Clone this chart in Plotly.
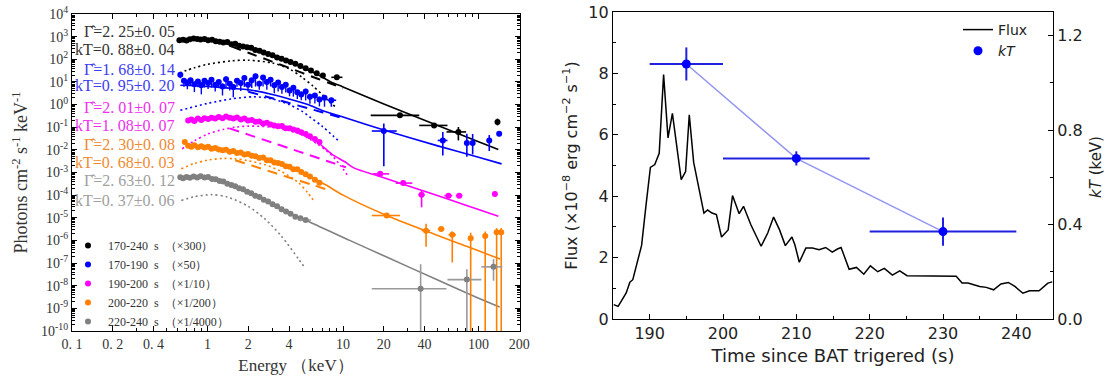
import plotly.graph_objects as go

# ---------------- LEFT PANEL DATA (photon spectra, scaled) ----------------
black_E = [0.62,0.66,0.70,0.74,0.79,0.84,0.89,0.95,1.01,1.08,1.15,1.23,1.31,1.40,1.50,1.60,1.71,1.83,1.96,2.10,2.25,2.42,2.60,2.80,3.02,3.26,3.52,3.80,4.10,4.45,4.85,5.3,5.8,6.4,7.1]
black_F = [6.9e2,7.2e2,6.8e2,7.6e2,8.3e2,7.9e2,7.4e2,7.8e2,6.9e2,7.2e2,6.3e2,6.0e2,5.5e2,5.8e2,4.6e2,4.8e2,4.0e2,3.7e2,3.4e2,3.2e2,2.6e2,2.4e2,2.0e2,1.7e2,1.5e2,1.2e2,1.05e2,89,76,63,50,40,32,24,19]

blue_E = [0.63,0.67,0.71,0.75,0.80,0.85,0.90,0.95,1.01,1.07,1.14,1.21,1.29,1.37,1.46,1.55,1.65,1.76,1.87,1.99,2.12,2.26,2.41,2.57,2.74,2.92,3.11,3.32,3.54,3.78,4.03,4.30,4.60,4.92,5.3,5.7,6.2,6.7,7.3]
blue_F = [21,11.2,9.5,12.0,7.9,10.5,7.1,11.2,8.9,12.6,7.6,10.0,6.3,13.2,8.3,6.0,11.2,8.9,15.1,7.6,12.0,17.8,8.3,15.8,10.0,12.6,7.1,9.5,6.0,7.6,4.2,5.6,3.5,2.8,3.8,2.2,2.5,1.66,2.0]
blue_err_dn = [0.30,0.45,0.50,0.40,0.55,0.45,0.60,0.50,0.45,0.55,0.50,0.45,0.60,0.55,0.50,0.65,0.45,0.55,0.60,0.50,0.55,0.65,0.45,0.60,0.55,0.50,0.55,0.60,0.50,0.55,0.45,0.60,0.50,0.45,0.60,0.50,0.55,0.50,0.60]
blue_err_up = [0.30,0.25,0.30,0.25,0.30,0.25,0.35,0.30,0.25,0.30,0.30,0.25,0.35,0.30,0.25,0.35,0.30,0.25,0.30,0.30,0.25,0.30,0.35,0.25,0.30,0.30,0.35,0.25,0.30,0.30,0.35,0.30,0.30,0.35,0.30,0.35,0.30,0.35,0.30]

mag_E = [0.72,0.76,0.80,0.85,0.90,0.95,1.01,1.07,1.14,1.21,1.29,1.37,1.46,1.55,1.65,1.76,1.87,1.99,2.12,2.26,2.41,2.57,2.74,2.92,3.11,3.32,3.54,3.78,4.03,4.30,4.60,4.92,5.3,5.7,6.2,6.7]
mag_F = [0.20,0.22,0.19,0.24,0.21,0.25,0.23,0.26,0.24,0.28,0.25,0.30,0.26,0.24,0.27,0.22,0.24,0.20,0.21,0.174,0.18,0.145,0.158,0.132,0.12,0.11,0.112,0.091,0.089,0.079,0.072,0.060,0.050,0.040,0.030,0.022]

org_E = [0.68,0.72,0.76,0.80,0.85,0.90,0.95,1.01,1.07,1.14,1.21,1.29,1.37,1.46,1.55,1.65,1.76,1.87,1.99,2.12,2.26,2.41,2.57,2.74,2.92,3.11,3.32,3.54,3.78,4.03,4.30,4.60,4.92,5.3,5.7,6.2,6.7]
org_F = [0.022,0.0151,0.0138,0.0158,0.0132,0.0145,0.0126,0.0138,0.0112,0.012,0.0105,0.0095,0.010,0.0083,0.0089,0.0072,0.0076,0.0063,0.0066,0.0055,0.0052,0.0044,0.0046,0.0035,0.0035,0.0028,0.0026,0.0024,0.0019,0.0018,0.0014,0.00138,0.00105,8.3e-4,6.6e-4,4.8e-4,3.5e-4]

gray_E = [0.63,0.66,0.70,0.74,0.79,0.84,0.89,0.95,1.01,1.08,1.15,1.23,1.31,1.40,1.50,1.60,1.71,1.83,1.96,2.10,2.25,2.42,2.60,2.80,3.02,3.26,3.52,3.80,4.10,4.45,4.85]
gray_F = [6.2e-4,5.6e-4,6.3e-4,5.8e-4,6.6e-4,6.0e-4,6.8e-4,6.0e-4,6.3e-4,5.2e-4,5.0e-4,4.2e-4,4.0e-4,3.2e-4,2.8e-4,2.5e-4,2.0e-4,1.82e-4,1.41e-4,1.2e-4,9.5e-5,8.3e-5,6.3e-5,5.2e-5,4.0e-5,3.2e-5,2.4e-5,1.9e-5,1.51e-5,1.12e-5,9.5e-6]

# wide bins (last XRT bin + BAT): energy, energy range, flux, flux range
black_hE = [9.0, 26.3, 47, 71, 138]
black_hElo = [8.2, 16, 36.5, 58, 133]
black_hEhi = [9.9, 36.5, 59, 81, 143]
black_hF = [16, 0.335, 0.12, 0.062, 0.17]
black_hFlo = [14, 0.30, 0.105, 0.026, 0.12]
black_hFhi = [18, 0.37, 0.137, 0.102, 0.24]

blue_hE = [8.2, 20, 54.5, 82, 90.5, 120, 142]
blue_hElo = [7.7, 16.3, 50, 79, 87.5, 116, 138]
blue_hEhi = [8.9, 24.9, 59, 85, 93.5, 124, 146]
blue_hF = [1.55, 0.068, 0.026, 0.020, 0.020, 0.026, 0.051]
blue_hFlo = [0.8, 0.0019, 0.0056, 0.005, 0.0063, 0.0089, 0.040]
blue_hFhi = [2.0, 0.145, 0.062, 0.052, 0.05, 0.045, 0.064]

mag_hE = [18.8, 27.8, 38, 60, 72, 132]
mag_hElo = [16.7, 24.5, 36, 56, 68, 128]
mag_hEhi = [21.9, 32.5, 40, 64, 76, 136]
mag_hF = [8.7e-4, 3.4e-4, 1.05e-4, 9.5e-5, 9.5e-5, 1.12e-4]
mag_hFlo = [7.2e-4, 2.8e-4, 2.9e-5, 7.9e-5, 7.9e-5, 8.9e-5]
mag_hFhi = [1.05e-3, 4.1e-4, 1.6e-4, 1.15e-4, 1.15e-4, 1.41e-4]

org_hE = [21, 41, 53, 64, 87.5, 112, 136, 147]
org_hElo = [16.3, 38, 50, 60, 84, 108, 132, 144]
org_hEhi = [26.3, 44, 56, 68, 91, 116, 140, 150]
org_hF = [1.26e-5, 2.7e-6, 3.2e-6, 1.78e-6, 1.26e-6, 1.58e-6, 2.3e-6, 2.3e-6]
org_hFlo = [1.1e-5, 5.2e-7, 2.6e-6, 1.07e-7, 1e-12, 1e-12, 1e-12, 1e-12]
org_hFhi = [1.4e-5, 5.4e-6, 3.9e-6, 2.5e-6, 2.2e-6, 2.5e-6, 3.5e-6, 3.5e-6]

gray_hE = [5.3, 37.4, 82, 129]
gray_hElo = [4.8, 16.3, 59, 105]
gray_hEhi = [5.8, 58, 105, 150]
gray_hF = [7.9e-6, 7.4e-9, 1.86e-8, 6.8e-8]
gray_hFlo = [6.5e-6, 1e-12, 1e-12, 1.66e-8]
gray_hFhi = [9.5e-6, 8.9e-8, 5.4e-8, 1.5e-7]

# model curves: total (solid), power law (dashed), blackbody (dotted)
black_tot_E = [0.6, 1.0, 1.5, 2.0, 3.0, 4.0, 5.0, 6.5, 8.0, 10, 20, 50, 100, 140]
black_tot_F = [690, 690, 440, 300, 138, 76, 44, 21, 10.5, 6.0, 1.05, 0.12, 0.023, 0.0105]
black_pl_E = [1.5, 2, 3, 4, 5, 6.5, 8, 10]
black_pl_F = [370, 195, 79, 42, 25, 13.8, 8.7, 5.2]
black_bb_E = [0.62, 0.8, 1.0, 1.5, 2.0, 3.0, 4.0, 5.0, 6.0, 7.0, 8.0, 8.8]
black_bb_F = [25, 42, 60, 85, 91, 69, 38, 15.8, 6.6, 2.8, 1.26, 0.79]

blue_tot_E = [0.63, 1.0, 1.5, 2.0, 3.0, 4.0, 5.5, 7.1, 10, 20, 50, 100, 148]
blue_tot_F = [7.1, 6.3, 5.2, 4.5, 2.8, 1.78, 1.0, 0.54, 0.28, 0.076, 0.015, 0.0047, 0.0024]
blue_pl_E = [2.0, 3.0, 4.0, 5.5, 7.1, 10]
blue_pl_F = [3.7, 1.9, 1.17, 0.69, 0.45, 0.25]
blue_bb_E = [0.63, 1.0, 1.5, 2.2, 3.0, 4.0, 5.0, 5.7, 7.0, 8.5, 9.5]
blue_bb_F = [0.56, 1.12, 1.78, 2.2, 1.78, 1.0, 0.5, 0.28, 0.112, 0.04, 0.022]

mag_tot_E = [0.7, 1.0, 1.35, 2.0, 2.65, 3.5, 4.7, 6.0, 7.1, 8.3, 10.4, 12, 18.8, 30, 60, 100, 140]
mag_tot_F = [0.19, 0.24, 0.27, 0.21, 0.145, 0.102, 0.066, 0.032, 0.014, 0.0063, 0.0029, 0.0016, 6.6e-4, 2.6e-4, 6.6e-5, 2.3e-5, 1.17e-5]
mag_pl_E = [1.45, 2.0, 3.0, 4.0, 5.5, 7.0, 8.5, 10.5]
mag_pl_F = [0.089, 0.047, 0.021, 0.0117, 0.0062, 0.0038, 0.0026, 0.0017]
mag_bb_E = [0.65, 0.8, 1.0, 1.3, 1.64, 2.0, 3.0, 4.0, 5.0, 6.5, 8.3, 10, 11]
mag_bb_F = [0.0112, 0.025, 0.05, 0.079, 0.102, 0.112, 0.1, 0.071, 0.045, 0.0178, 0.0056, 0.00145, 6.3e-4]

org_tot_E = [0.7, 1.0, 1.5, 2.0, 2.65, 3.5, 4.7, 6.0, 7.5, 10, 21, 50, 100, 144]
org_tot_F = [0.0158, 0.0126, 0.0083, 0.006, 0.004, 0.0023, 0.0012, 5.6e-4, 2.8e-4, 1.0e-4, 1.26e-5, 1.66e-6, 3.5e-7, 1.5e-7]
org_pl_E = [1.6, 2.5, 4.0, 6.0, 8.0]
org_pl_F = [0.0035, 0.00148, 6.0e-4, 2.8e-4, 1.58e-4]
org_bb_E = [0.64, 0.8, 1.0, 1.3, 1.6, 2.0, 2.65, 3.5, 4.7, 5.5, 6.2]
org_bb_F = [0.00145, 0.0025, 0.0035, 0.0042, 0.004, 0.0033, 0.0022, 0.00112, 3.5e-4, 1.26e-4, 4.8e-5]

gray_tot_E = [0.63, 1.0, 1.5, 2.65, 4.7, 5.5, 11.3, 20, 50, 100, 143]
gray_tot_F = [6.0e-4, 6.0e-4, 2.75e-4, 6.0e-5, 1.05e-5, 7.1e-6, 9.8e-7, 2.1e-7, 1.78e-8, 2.8e-9, 1.15e-9]
gray_bb_E = [0.64, 0.8, 1.07, 1.4, 2.0, 2.65, 3.5, 4.7, 5.25]
gray_bb_F = [5.8e-5, 8.5e-5, 1.05e-4, 8.3e-5, 3.2e-5, 8.9e-6, 1.58e-6, 1.5e-7, 6.0e-8]

legend_names = ["170-240  s  （×300）", "170-190  s  （×50）", "190-200  s  （×1/10）",
                "200-220  s  （×1/200）", "220-240  s  （×1/4000）"]
gamma_labels = ["Γ̂=2. 25±0. 05", "Γ̂=1. 68±0. 14", "Γ̂=2. 01±0. 07", "Γ̂=2. 30±0. 08", "Γ̂=2. 63±0. 12"]
kt_labels = ["kT=0. 88±0. 04", "kT=0. 95±0. 20", "kT=1. 08±0. 07", "kT=0. 68±0. 03", "kT=0. 37±0. 06"]

x_tick_vals = [0.1, 0.2, 0.4, 1, 2, 4, 10, 20, 40, 100, 200]
x_tick_text = ["0. 1", "0. 2", "0. 4", "1", "2", "4", "10", "20", "40", "100", "200"]
y_tick_exps = list(range(-10, 5))

# ---------------- RIGHT PANEL DATA (light curve + kT) ----------------
lc_t = [185.1,185.7,186.8,187.3,187.7,188.9,189.5,190.1,190.7,191.3,191.9,192.5,193.1,194.3,194.9,195.4,196.0,196.8,197.4,197.9,198.5,199.1,199.8,200.7,201.3,202.2,202.8,203.8,205.2,206.1,206.9,207.7,208.5,209.4,209.8,210.4,211.3,212.2,213.1,214.0,214.9,215.6,216.1,217.2,218.2,219.2,220.1,221.1,222.0,223.1,224.1,225.1,226.1,227.7,229.5,231.8,232.6,233.4,235.0,235.9,236.9,237.9,238.9,239.8,240.9,241.8,243.1,244.3,244.9]
lc_flux = [0.47,0.41,0.85,1.2,1.28,2.4,3.7,4.94,5.03,5.4,7.96,5.9,6.7,4.54,4.8,6.65,5.1,4.1,3.45,3.55,3.45,3.4,2.67,2.9,4.02,3.43,3.67,3.07,2.37,2.8,3.32,2.91,2.39,2.67,2.42,1.85,2.31,2.31,2.26,2.33,2.18,2.28,2.33,1.62,1.68,1.46,1.73,1.54,1.65,1.43,1.57,1.41,1.41,1.41,1.39,1.39,1.17,1.17,1.06,1.03,0.95,1.14,1.19,1.06,0.84,0.92,0.92,1.17,1.21]

kt_t = [195, 210, 230]
kt_t_lo = [190, 200, 220]
kt_t_hi = [200, 220, 240]
kt_val = [1.08, 0.68, 0.37]
kt_err = [0.07, 0.03, 0.06]

# ---------------- STYLE ----------------
colors = ["#000000", "#0000ff", "#ff00ff", "#ff8000", "#808080"]
label_colors = ["#333333", "#3c3cf0", "#ee30ee", "#f08a30", "#a0a0a0"]
SERIF = "Liberation Serif"
SANS = "DejaVu Sans"
W, H = 1109, 379

fig = go.Figure()

series = [
    (black_E, black_F, None, None,
     black_hE, black_hElo, black_hEhi, black_hF, black_hFlo, black_hFhi,
     black_tot_E, black_tot_F, black_pl_E, black_pl_F, black_bb_E, black_bb_F),
    (blue_E, blue_F, blue_err_dn, blue_err_up,
     blue_hE, blue_hElo, blue_hEhi, blue_hF, blue_hFlo, blue_hFhi,
     blue_tot_E, blue_tot_F, blue_pl_E, blue_pl_F, blue_bb_E, blue_bb_F),
    (mag_E, mag_F, None, None,
     mag_hE, mag_hElo, mag_hEhi, mag_hF, mag_hFlo, mag_hFhi,
     mag_tot_E, mag_tot_F, mag_pl_E, mag_pl_F, mag_bb_E, mag_bb_F),
    (org_E, org_F, None, None,
     org_hE, org_hElo, org_hEhi, org_hF, org_hFlo, org_hFhi,
     org_tot_E, org_tot_F, org_pl_E, org_pl_F, org_bb_E, org_bb_F),
    (gray_E, gray_F, None, None,
     gray_hE, gray_hElo, gray_hEhi, gray_hF, gray_hFlo, gray_hFhi,
     gray_tot_E, gray_tot_F, None, None, gray_bb_E, gray_bb_F),
]

# model curves first (points drawn on top)
for i, s in enumerate(series):
    c = colors[i]
    (_, _, _, _, _, _, _, _, _, _, tE, tF, pE, pF, bE, bF) = s
    fig.add_trace(go.Scatter(x=tE, y=tF, mode="lines", line=dict(color=c, width=1.6, shape="spline", smoothing=0.8),
                             showlegend=False, hoverinfo="skip", xaxis="x", yaxis="y"))
    if pE is not None:
        fig.add_trace(go.Scatter(x=pE, y=pF, mode="lines", line=dict(color=c, width=2, dash="10px,7px", shape="spline", smoothing=0.8),
                                 showlegend=False, hoverinfo="skip", xaxis="x", yaxis="y"))
    fig.add_trace(go.Scatter(x=bE, y=bF, mode="lines", line=dict(color=c, width=1.6, dash="2px,3px", shape="spline", smoothing=0.8),
                             showlegend=False, hoverinfo="skip", xaxis="x", yaxis="y"))

for i, s in enumerate(series):
    c = colors[i]
    (E, F, edn, eup, hE, hElo, hEhi, hF, hFlo, hFhi, *_rest) = s
    err_y = None
    if edn is not None:
        err_y = dict(type="data", symmetric=False,
                     array=[f * u for f, u in zip(F, eup)],
                     arrayminus=[f * d for f, d in zip(F, edn)],
                     color=c, thickness=1.4, width=0)
    fig.add_trace(go.Scatter(x=E, y=F, mode="markers", name=legend_names[i],
                             marker=dict(color=c, size=6, line=dict(width=0)),
                             error_y=err_y,
                             legend="legend", xaxis="x", yaxis="y"))
    ecol = "#9a9a9a" if i == 4 else c
    fig.add_trace(go.Scatter(
        x=hE, y=hF, mode="markers", showlegend=False,
        marker=dict(color=c, size=6, line=dict(width=0)),
        error_x=dict(type="data", symmetric=False,
                     array=[h - e for h, e in zip(hEhi, hE)],
                     arrayminus=[e - l for e, l in zip(hE, hElo)],
                     color=ecol, thickness=1.6, width=0),
        error_y=dict(type="data", symmetric=False,
                     array=[h - f for h, f in zip(hFhi, hF)],
                     arrayminus=[f - l for f, l in zip(hF, hFlo)],
                     color=ecol, thickness=1.6, width=0),
        xaxis="x", yaxis="y"))

# right panel
fig.add_trace(go.Scatter(x=lc_t, y=lc_flux, mode="lines", name="Flux",
                         line=dict(color="black", width=1.5),
                         legend="legend2", xaxis="x2", yaxis="y2"))
fig.add_trace(go.Scatter(x=kt_t, y=kt_val, mode="lines", showlegend=False,
                         line=dict(color="rgba(60,60,230,0.55)", width=1.5),
                         xaxis="x2", yaxis="y3", hoverinfo="skip"))
fig.add_trace(go.Scatter(x=kt_t, y=kt_val, mode="markers", name="<i>kT</i>",
                         marker=dict(color="#0000ff", size=9),
                         error_x=dict(type="data", symmetric=False,
                                      array=[h - t for h, t in zip(kt_t_hi, kt_t)],
                                      arrayminus=[t - l for t, l in zip(kt_t, kt_t_lo)],
                                      color="#2020e0", thickness=2, width=0),
                         error_y=dict(type="data", array=kt_err, color="#2020e0", thickness=2, width=0),
                         legend="legend2", xaxis="x2", yaxis="y3"))

def minor_log_vals(lo_exp, hi_exp, skip, vmax):
    vals = []
    for e in range(lo_exp, hi_exp + 1):
        for k in range(1, 10):
            v = k * 10.0 ** e
            if v <= vmax and all(abs(v - s) / s > 1e-6 for s in skip):
                vals.append(v)
    return vals

y_major = [10.0 ** e for e in y_tick_exps]
y_text = ["10<sup>%d</sup>" % e for e in y_tick_exps]
x_minor = minor_log_vals(-1, 2, x_tick_vals, 205)
y_minor = minor_log_vals(-10, 3, y_major, 1e4)

axis_common = dict(showline=True, linecolor="black", linewidth=1.3, ticks="inside",
                   tickcolor="black", showgrid=False, zeroline=False, automargin=False)

fig.update_layout(
    width=W, height=H, margin=dict(l=0, r=0, t=0, b=0),
    paper_bgcolor="white", plot_bgcolor="white", showlegend=True,
    xaxis=dict(domain=[72 / W, 520 / W], type="log", range=[-1, 2.306], anchor="y",
               tickmode="array", tickvals=x_tick_vals, ticktext=x_tick_text, ticklen=5,
               mirror="allticks",
               minor=dict(tickmode="array", tickvals=x_minor, ticks="inside", ticklen=3, tickcolor="black"),
               tickfont=dict(family=SERIF, size=14, color="#333"),
               title=dict(text="Energy （keV）", font=dict(family=SERIF, size=17, color="#333"), standoff=8),
               **axis_common),
    yaxis=dict(domain=[1 - 331 / H, 1 - 14 / H], type="log", range=[-10, 4], anchor="x",
               tickmode="array", tickvals=y_major, ticktext=y_text, ticklen=5, mirror="allticks",
               minor=dict(tickmode="array", tickvals=y_minor, ticks="inside", ticklen=3, tickcolor="black"),
               tickfont=dict(family=SERIF, size=14, color="#333"),
               title=dict(text="Photons cm<sup>-2</sup> s<sup>-1</sup> keV<sup>-1</sup>",
                          font=dict(family=SERIF, size=18, color="#333"), standoff=8),
               **axis_common),
    xaxis2=dict(domain=[613 / W, 1053 / W], range=[185, 245], anchor="y2",
                tickvals=[190, 200, 210, 220, 230, 240], ticklen=5, mirror=True,
                minor=dict(dtick=5, tick0=185, ticks="inside", ticklen=3, tickcolor="black"),
                tickfont=dict(family=SANS, size=16, color="#222"),
                title=dict(text="Time since BAT trigered (s)", font=dict(family=SANS, size=18, color="#222"), standoff=7),
                **axis_common),
    yaxis2=dict(domain=[1 - 319 / H, 1 - 12 / H], range=[0, 10], anchor="x2",
                dtick=2, ticklen=5,
                minor=dict(dtick=1, ticks="inside", ticklen=3, tickcolor="black"),
                tickfont=dict(family=SANS, size=16, color="#222"),
                title=dict(text="Flux (×10<sup>−8</sup> erg cm<sup>−2</sup> s<sup>−1</sup>)",
                           font=dict(family=SANS, size=16, color="#222"), standoff=6),
                **axis_common),
    yaxis3=dict(range=[0, 1.3], overlaying="y2", side="right", anchor="x2",
                tickvals=[0, 0.4, 0.8, 1.2], tickformat=".1f", ticklen=5,
                minor=dict(tickvals=[0.2, 0.6, 1.0], ticks="inside", ticklen=3, tickcolor="black"),
                tickfont=dict(family=SANS, size=16, color="#222"),
                **axis_common),
    legend=dict(x=68 / W, y=1 - 231 / H, xanchor="left", yanchor="top",
                bgcolor="rgba(0,0,0,0)", font=dict(family=SERIF, size=12, color="#333"),
                itemsizing="trace", tracegroupgap=0),
    legend2=dict(x=958 / W, y=1 - 14 / H, xanchor="left", yanchor="top",
                 bgcolor="rgba(0,0,0,0)", font=dict(family=SANS, size=14, color="#222")),
)

# right-hand axis title (placed as rotated text so it stays inside the page)
fig.add_annotation(x=1096 / W, y=1 - 167 / H, xref="paper", yref="paper",
                   text="<i>kT</i> (keV)", textangle=-90, showarrow=False,
                   xanchor="center", yanchor="middle",
                   font=dict(family=SANS, size=15, color="#222"))

label_y = [32, 69, 107, 144, 181]
kt_y = [50, 86, 125, 163, 200]
for i in range(5):
    fig.add_annotation(x=177 / W, y=1 - label_y[i] / H, xref="paper", yref="paper",
                       text=gamma_labels[i], showarrow=False, xanchor="right", yanchor="middle",
                       font=dict(family=SERIF, size=16, color=label_colors[i]))
    fig.add_annotation(x=177 / W, y=1 - kt_y[i] / H, xref="paper", yref="paper",
                       text=kt_labels[i], showarrow=False, xanchor="right", yanchor="middle",
                       font=dict(family=SERIF, size=16, color=label_colors[i]))

fig.write_html("out.html", config={"displayModeBar": False},
               post_script="document.body.style.margin='0px';document.body.style.padding='0px';")
